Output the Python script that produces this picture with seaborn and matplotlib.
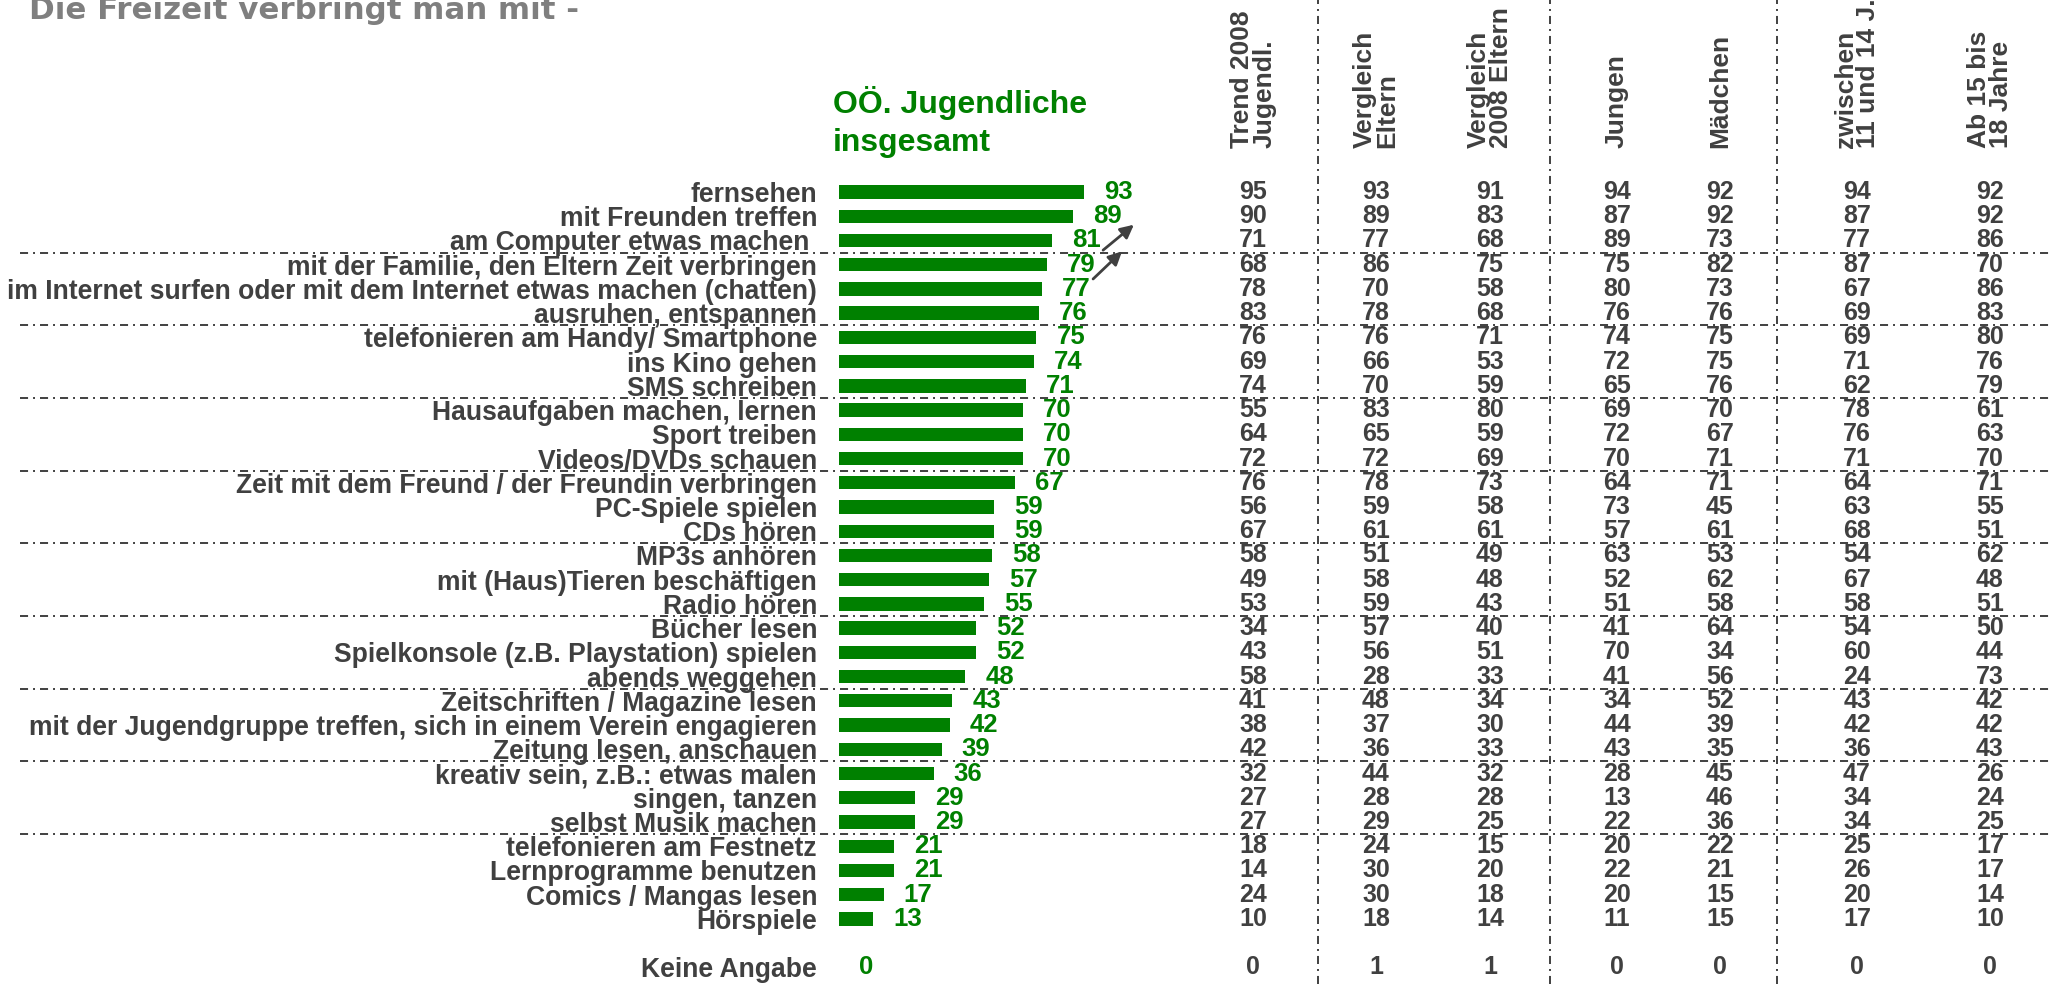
import pandas as pd
import matplotlib.pyplot as plt
import seaborn as sns
from matplotlib.lines import Line2D
from matplotlib.transforms import blended_transform_factory


activities = [
    "fernsehen",
    "mit Freunden treffen",
    "am Computer etwas machen ",
    "mit der Familie, den Eltern Zeit verbringen",
    "im Internet surfen oder mit dem Internet etwas machen (chatten)",
    "ausruhen, entspannen",
    "telefonieren am Handy/ Smartphone",
    "ins Kino gehen",
    "SMS schreiben",
    "Hausaufgaben machen, lernen",
    "Sport treiben",
    "Videos/DVDs schauen",
    "Zeit mit dem Freund / der Freundin verbringen",
    "PC-Spiele spielen",
    "CDs hören",
    "MP3s anhören",
    "mit (Haus)Tieren beschäftigen",
    "Radio hören",
    "Bücher lesen",
    "Spielkonsole (z.B. Playstation) spielen",
    "abends weggehen",
    "Zeitschriften / Magazine lesen",
    "mit der Jugendgruppe treffen, sich in einem Verein engagieren",
    "Zeitung lesen, anschauen",
    "kreativ sein, z.B.: etwas malen",
    "singen, tanzen",
    "selbst Musik machen",
    "telefonieren am Festnetz",
    "Lernprogramme benutzen",
    "Comics / Mangas lesen",
    "Hörspiele",
]
total = [93, 89, 81, 79, 77, 76, 75, 74, 71, 70, 70, 70, 67, 59, 59, 58,
         57, 55, 52, 52, 48, 43, 42, 39, 36, 29, 29, 21, 21, 17, 13]

trend_2008 = [95, 90, 71, 68, 78, 83, 76, 69, 74, 55, 64, 72, 76, 56, 67, 58,
              49, 53, 34, 43, 58, 41, 38, 42, 32, 27, 27, 18, 14, 24, 10]
eltern = [93, 89, 77, 86, 70, 78, 76, 66, 70, 83, 65, 72, 78, 59, 61, 51,
          58, 59, 57, 56, 28, 48, 37, 36, 44, 28, 29, 24, 30, 30, 18]
eltern_2008 = [91, 83, 68, 75, 58, 68, 71, 53, 59, 80, 59, 69, 73, 58, 61, 49,
               48, 43, 40, 51, 33, 34, 30, 33, 32, 28, 25, 15, 20, 18, 14]
jungen = [94, 87, 89, 75, 80, 76, 74, 72, 65, 69, 72, 70, 64, 73, 57, 63,
          52, 51, 41, 70, 41, 34, 44, 43, 28, 13, 22, 20, 22, 20, 11]
maedchen = [92, 92, 73, 82, 73, 76, 75, 75, 76, 70, 67, 71, 71, 45, 61, 53,
            62, 58, 64, 34, 56, 52, 39, 35, 45, 46, 36, 22, 21, 15, 15]
age_11_14 = [94, 87, 77, 87, 67, 69, 69, 71, 62, 78, 76, 71, 64, 63, 68, 54,
             67, 58, 54, 60, 24, 43, 42, 36, 47, 34, 34, 25, 26, 20, 17]
age_15_18 = [92, 92, 86, 70, 86, 83, 80, 76, 79, 61, 63, 70, 71, 55, 51, 62,
             48, 51, 50, 44, 73, 42, 42, 43, 26, 24, 25, 17, 17, 14, 10]

no_answer = "Keine Angabe"
no_answer_total = 0
no_answer_cols = [0, 1, 1, 0, 0, 0, 0]

col_headers = ["Trend 2008\nJugendl.", "Vergleich\nEltern", "Vergleich\n2008 Eltern",
               "Jungen", "Mädchen", "zwischen\n11 und 14 J.", "Ab 15 bis\n18 Jahre"]
table_cols = [trend_2008, eltern, eltern_2008, jungen, maedchen, age_11_14, age_15_18]

GREEN = "#008000"
GREY = "#404040"

sns.set_style("white")
plt.rcParams['font.family'] = ['Liberation Sans', 'DejaVu Sans']
plt.rcParams['lines.scale_dashes'] = False
dashdot = (0, (5.8, 3.6, 1.4, 3.6))

W, H = 2053, 984
x0 = 839          # bar origin in pixels
unit = 2.633      # pixels per percent
row0, pitch = 192, 24.23

fig = plt.figure(figsize=(W / 100, H / 100), dpi=100)
ax = fig.add_axes([x0 / W, 0, (W - x0) / W, 1])

df = pd.DataFrame({"Tätigkeit": activities + [no_answer],
                   "Prozent": total + [no_answer_total]})
order = activities + [" ", no_answer]

sns.barplot(data=df, x="Prozent", y="Tätigkeit", order=order, color=GREEN,
            saturation=1, width=0.55, linewidth=0, errorbar=None, ax=ax)

ax.set_xlim(0, (W - x0) / unit)
ax.set_ylim((H - row0) / pitch, -row0 / pitch)
ax.set_xticks([])
ax.set_xlabel("")
ax.set_ylabel("")
sns.despine(ax=ax, left=True, bottom=True)
ax.tick_params(axis="y", length=0, pad=15.8, labelsize=19.1, labelcolor=GREY)
for t in ax.get_yticklabels():
    t.set_fontweight("bold")

ax.bar_label(ax.containers[0], fmt="%d", padding=14.4, color=GREEN,
             fontsize=18.5, fontweight="bold")

# horizontal separators every three rows
for r in range(2, 27, 3):
    ax.axhline(r + 0.5, xmin=(20 - x0) / (W - x0), xmax=1, clip_on=False,
               color=GREY, lw=1.4, ls=dashdot, zorder=0.5)

# vertical separators between column groups
for px in [1318, 1550, 1777]:
    fig.add_artist(Line2D([px / W, px / W], [0, 1], transform=fig.transFigure,
                          color=GREY, lw=1.4, ls=dashdot))

# comparison table
col_x = [1253, 1376, 1490, 1617, 1720, 1857, 1990]
trans = blended_transform_factory(fig.transFigure, ax.transData)
ka_row = order.index(no_answer)
for j, col in enumerate(table_cols):
    for i, v in enumerate(col):
        ax.text(col_x[j] / W, i, str(v), transform=trans, ha="center", va="center",
                fontsize=18, fontweight="bold", color=GREY)
    ax.text(col_x[j] / W, ka_row, str(no_answer_cols[j]), transform=trans,
            ha="center", va="center", fontsize=18, fontweight="bold", color=GREY)
    fig.text(col_x[j] / W, 1 - 148 / H, col_headers[j], rotation=90, ha="center",
             va="bottom", multialignment="left", fontsize=19,
             fontweight="bold", color=GREY, linespacing=0.92)

# trend arrows
for tail, head in [((100.3, 2.4), (112.0, 1.35)), ((96.5, 3.59), (107.5, 2.45))]:
    ax.annotate("", xy=head, xytext=tail,
                arrowprops=dict(arrowstyle="-|>", color=GREY, lw=2,
                                mutation_scale=20, shrinkA=0, shrinkB=0))

fig.text(29 / W, 1 - 19 / H, "Die Freizeit verbringt man mit -",
         family="DejaVu Sans", fontsize=22.2,
         fontweight="bold", color="#7f7f7f", va="baseline", ha="left")
fig.text(833 / W, 1 - 113 / H, "OÖ. Jugendliche",
         fontsize=23, fontweight="bold", color=GREEN, va="baseline")
fig.text(833 / W, 1 - 151 / H, "insgesamt",
         fontsize=23, fontweight="bold", color=GREEN, va="baseline")

fig.savefig("out.png", dpi=100)
